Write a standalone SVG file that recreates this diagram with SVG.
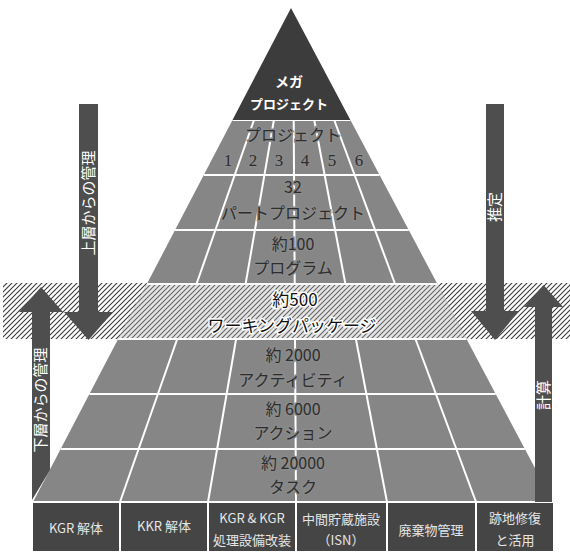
<svg xmlns="http://www.w3.org/2000/svg" width="570" height="553" viewBox="0 0 570 553">
<defs>
<pattern id="hatch" patternUnits="userSpaceOnUse" width="5" height="5">
<path d="M-1,1 L1,-1 M0,5 L5,0 M4,6 L6,4" stroke="#3a3a3a" stroke-width="1.1"/>
</pattern>
<style>
.jp{font-family:"Noto Sans CJK JP","Noto Sans",sans-serif;}
.pt{font-family:"Noto Sans CJK JP","Noto Sans",sans-serif;font-size:16px;fill:#2e2e2e;text-anchor:middle;stroke:#8a8a8a;stroke-width:3;paint-order:stroke;}
.num{font-family:"Liberation Serif","Noto Serif CJK JP",serif;font-size:17px;fill:#2e2e2e;text-anchor:middle;stroke:#8a8a8a;stroke-width:3;paint-order:stroke;}
.bt{font-family:"Noto Sans CJK JP","Noto Sans",sans-serif;font-size:17px;fill:#111;text-anchor:middle;stroke:#fff;stroke-width:3;paint-order:stroke;}
.wl{stroke:#fff;stroke-width:2;fill:none;}
.cell{font-family:"Noto Sans CJK JP","Liberation Sans",sans-serif;fill:#e6e6e6;text-anchor:middle;font-size:13px;}
.arrow{fill:#4e4e4e;}
.at{font-family:"Noto Sans CJK JP","Noto Sans",sans-serif;font-size:15px;fill:#fff;text-anchor:middle;}
</style>
</defs>
<rect width="570" height="553" fill="#fff"/>

<!-- hatched band background -->
<g id="band">
<rect x="3" y="283" width="567" height="56" fill="#fff"/>
<rect x="3" y="283" width="567" height="56" fill="url(#hatch)"/>
</g>

<!-- pyramid -->
<g id="pyramid-body">
<polygon points="232.5,120 350.4,120 553,502 33,502" fill="#868686"/>
<polygon points="146.8,284 437.4,284 466.6,339 118.1,339" fill="#e4e4e4"/>
<polygon points="146.8,284 437.4,284 466.6,339 118.1,339" fill="url(#hatch)" opacity="0.75"/>
</g>
<g id="grid-lines" class="wl">
<line x1="232.5" y1="120" x2="350.4" y2="120"/>
<line x1="203.8" y1="175" x2="379.6" y2="175"/>
<line x1="175" y1="230" x2="408.8" y2="230"/>
<line x1="146.8" y1="284" x2="437.4" y2="284"/>
<line x1="118.1" y1="339" x2="466.6" y2="339"/>
<line x1="89.4" y1="394" x2="495.7" y2="394"/>
<line x1="60.7" y1="449" x2="524.9" y2="449"/>
<line x1="254" y1="120" x2="196.5" y2="284"/>
<line x1="273.9" y1="120" x2="245.6" y2="284"/>
<line x1="293.7" y1="120" x2="294.7" y2="284"/>
<line x1="314.2" y1="120" x2="345.4" y2="284"/>
<line x1="334.2" y1="120" x2="395.1" y2="284"/>
<line x1="177.2" y1="339" x2="120" y2="502"/>
<line x1="236.1" y1="339" x2="208" y2="502"/>
<line x1="295" y1="339" x2="296" y2="502"/>
<line x1="355.9" y1="339" x2="387" y2="502"/>
<line x1="415.5" y1="339" x2="476" y2="502"/>
</g>

<g id="node-mega">
<polygon points="291,8 232.5,120 350.4,120" fill="#3c3c3c"/>
<text x="289" y="87" class="jp" font-size="14" font-weight="bold" fill="#fff" text-anchor="middle">メガ</text>
<text x="289" y="109" class="jp" font-size="13" font-weight="bold" fill="#fff" text-anchor="middle">プロジェクト</text>
</g>

<g id="node-project">
<text x="293" y="141" class="pt">プロジェクト</text>
<text x="228" y="166" class="num">1</text>
<text x="253" y="166" class="num">2</text>
<text x="279" y="166" class="num">3</text>
<text x="305" y="166" class="num">4</text>
<text x="332" y="166" class="num">5</text>
<text x="359" y="166" class="num">6</text>
</g>
<g id="node-part">
<text x="293" y="193" class="pt" font-size="15">32</text>
<text x="293" y="219" class="pt" font-size="17">パートプロジェクト</text>
</g>
<g id="node-program">
<text x="293" y="250" class="pt">約100</text>
<text x="293" y="274" class="pt" font-size="17">プログラム</text>
</g>
<g id="node-workpackage">
<text x="295" y="306" class="bt" font-size="15">約500</text>
<text x="292" y="332" class="bt">ワーキングパッケージ</text>
</g>
<g id="node-activity">
<text x="293" y="361" class="pt">約 2000</text>
<text x="293" y="386" class="pt" font-size="17">アクティビティ</text>
</g>
<g id="node-action">
<text x="293" y="415" class="pt">約 6000</text>
<text x="293" y="439" class="pt" font-size="17">アクション</text>
</g>
<g id="node-task">
<text x="293" y="469" class="pt">約 20000</text>
<text x="293" y="493" class="pt" font-size="17">タスク</text>
</g>

<g id="bottom-row">
<rect x="33" y="502" width="520" height="49" fill="#454545"/>
<g class="wl">
<line x1="33" y1="502" x2="553" y2="502"/>
<line x1="120" y1="502" x2="120" y2="551"/>
<line x1="208" y1="502" x2="208" y2="551"/>
<line x1="296" y1="502" x2="296" y2="551"/>
<line x1="387" y1="502" x2="387" y2="551"/>
<line x1="476" y1="502" x2="476" y2="551"/>
</g>
</g>
<g id="node-kgr"><text x="76" y="533" class="cell" font-size="12">KGR 解体</text></g>
<g id="node-kkr"><text x="164" y="531" class="cell" font-size="12">KKR 解体</text></g>
<g id="node-kgr2">
<text x="252" y="523" class="cell" font-size="15" font-family="Liberation Sans,sans-serif">KGR &amp; KGR</text>
<text x="252" y="545" class="cell" font-size="13">処理設備改装</text>
</g>
<g id="node-isn">
<text x="341" y="524" class="cell" font-size="13">中間貯蔵施設</text>
<text x="341" y="545" class="cell" font-size="12">（ISN）</text>
</g>
<g id="node-waste"><text x="431" y="535" class="cell" font-size="13">廃棄物管理</text></g>
<g id="node-site">
<text x="515" y="523" class="cell" font-size="13">跡地修復</text>
<text x="515" y="545" class="cell" font-size="13">と活用</text>
</g>

<!-- arrows -->
<g id="connectors">
<g id="arrow-top-down-left">
<polygon class="arrow" points="79,104 98,104 98,312 113,312 88.5,340 64,312 79,312"/>
<text class="at" transform="translate(94,203) rotate(-90)">上層からの管理</text>
</g>
<g id="arrow-bottom-up-left">
<polygon class="arrow" points="41,287 63,312 50,312 50,470 32,500 32,312 19,312"/>
<text class="at" transform="translate(46,400) rotate(-90)">下層からの管理</text>
</g>
<g id="arrow-top-down-right">
<polygon class="arrow" points="486,104 504,104 504,311 519,311 495,340 471,311 486,311"/>
<text class="at" transform="translate(500,207) rotate(-90)">推定</text>
</g>
<g id="arrow-bottom-up-right">
<polygon class="arrow" points="543.5,285 563,307 552,307 552,502 535,502 535,307 524,307"/>
<text class="at" transform="translate(549,395) rotate(-90)">計算</text>
</g>
</g>
</svg>
